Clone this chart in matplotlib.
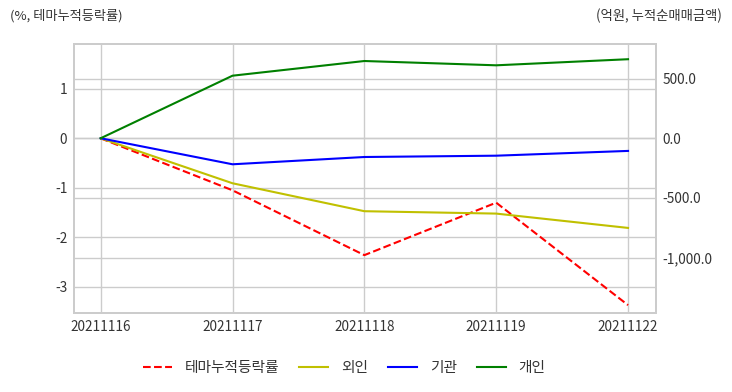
import matplotlib
matplotlib.use("Agg")
import matplotlib.pyplot as plt
from matplotlib.ticker import FuncFormatter

plt.rcParams['font.family'] = ['Noto Sans CJK KR', 'DejaVu Sans']
plt.rcParams['axes.unicode_minus'] = False

dates = ['20211116', '20211117', '20211118', '20211119', '20211122']
theme_rate = [0.0, -1.05, -2.36, -1.30, -3.37]   # %, left axis
foreign = [0, -377, -611, -631, -751]            # 억원, right axis
institution = [0, -218, -157, -146, -106]
individual = [0, 524, 647, 611, 662]

left_ticks = [1, 0, -1, -2, -3]
right_ticks = [500, 0, -500, -1000]

grid_c = '#cccccc'
text_c = '#333333'

fig = plt.figure(figsize=(7.32, 3.92), dpi=100)
ax1 = fig.add_axes([0.1015, 0.2008, 0.7943, 0.6862])
ax2 = ax1.twinx()

x = list(range(len(dates)))

ax1.set_xlim(-0.2, 4.21)
ax1.set_ylim(-3.535, 1.90)
ax2.set_ylim(-1466, 787)

# red line lives in ax2's draw list (so the right-axis grid stays underneath)
# but uses the left axis' data coordinates
l1, = ax2.plot(x, theme_rate, color='#ff0000', linestyle='--', linewidth=1.5,
               label='테마누적등락률', transform=ax1.transData)
l2, = ax2.plot(x, foreign, color='#c0c000', linewidth=1.5, label='외인')
l3, = ax2.plot(x, institution, color='#0000ff', linewidth=1.5, label='기관')
l4, = ax2.plot(x, individual, color='#008000', linewidth=1.5, label='개인')
ax2.set_ylim(-1466, 787)

ax1.set_xticks(x)
ax1.set_xticklabels(dates)
ax1.set_yticks(left_ticks)
ax1.set_yticklabels([str(v) for v in left_ticks])
ax2.set_yticks(right_ticks)
ax2.yaxis.set_major_formatter(FuncFormatter(lambda v, p: '{:,.1f}'.format(v)))

for ax in (ax1, ax2):
    ax.grid(True, color=grid_c, linewidth=1.0)
    ax.set_axisbelow(True)
    ax.tick_params(length=0, labelsize=9.8, colors=text_c, pad=5)
    for s in ax.spines.values():
        s.set_color(grid_c)
        s.set_linewidth(1.3)
ax2.grid(True, axis='y', color=grid_c, linewidth=1.0)
ax2.grid(False, axis='x')

fig.text(10 / 732, 1 - 16 / 392, '(%, 테마누적등락률)', fontsize=9.5, color=text_c,
         ha='left', va='center')
fig.text(722 / 732, 1 - 16 / 392, '(억원, 누적순매매금액)', fontsize=9.6, color=text_c,
         ha='right', va='center')

fig.legend(handles=[l1, l2, l3, l4], loc='center', bbox_to_anchor=(344 / 732, 1 - 368 / 392),
           ncol=4, frameon=False, fontsize=10.6, handlelength=2.0, handletextpad=0.85,
           columnspacing=1.35, labelcolor=text_c)

fig.savefig('out.png', dpi=100)
